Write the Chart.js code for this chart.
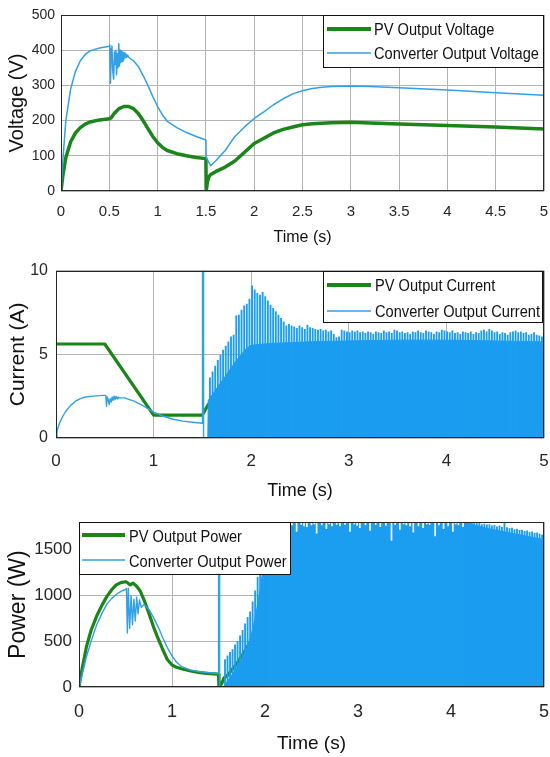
<!DOCTYPE html>
<html>
<head>
<meta charset="utf-8">
<title>PV and converter outputs</title>
<script src="https://cdn.jsdelivr.net/npm/chart.js@4.4.1/dist/chart.umd.min.js"></script>
<style>
  html, body { margin: 0; padding: 0; background: #ffffff; }
  #wrap { position: relative; width: 550px; height: 757px; overflow: hidden; }
  canvas { position: absolute; left: 0; }
</style>
</head>
<body>
<div id="wrap">
  <canvas id="voltage" width="550" height="252" style="top:0px"></canvas>
  <canvas id="current" width="550" height="253" style="top:252px"></canvas>
  <canvas id="power" width="550" height="252" style="top:505px"></canvas>
</div>
<script>
// ---------- data: [time (s), value] ----------
const pvVoltage = [[0,0],[0.02,45],[0.05,95],[0.1,140],[0.15,165],[0.2,180],[0.25,190],[0.3,196],[0.4,202],[0.5,205],[0.52,208],[0.55,220],[0.6,234],[0.65,240],[0.7,240],[0.75,234],[0.8,220],[0.85,200],[0.9,177],[0.95,155],[1.0,137],[1.05,124],[1.1,115],[1.2,106],[1.3,100],[1.4,95],[1.5,92],[1.503,0],[1.515,25],[1.53,40],[1.55,47],[1.6,55],[1.7,68],[1.8,85],[1.9,110],[2.0,135],[2.1,150],[2.2,165],[2.3,175],[2.4,182],[2.5,188],[2.6,191],[2.8,194],[3.0,195],[3.2,193],[3.5,190],[4.0,186],[4.5,182],[5.0,176]];
const converterVoltage = [[0,0],[0.02,90],[0.05,200],[0.1,290],[0.15,340],[0.2,370],[0.25,388],[0.3,398],[0.4,406],[0.5,411],[0.505,415],[0.512,306],[0.52,405],[0.527,412],[0.535,345],[0.545,318],[0.553,395],[0.56,360],[0.568,400],[0.575,330],[0.583,390],[0.59,350],[0.598,418],[0.605,355],[0.612,400],[0.618,365],[0.625,398],[0.632,368],[0.64,395],[0.648,372],[0.655,392],[0.662,378],[0.67,390],[0.68,380],[0.69,386],[0.7,380],[0.75,370],[0.8,354],[0.85,328],[0.9,300],[0.95,268],[1.0,240],[1.05,216],[1.1,198],[1.2,180],[1.3,166],[1.4,155],[1.5,145],[1.503,95],[1.55,72],[1.6,85],[1.7,115],[1.8,155],[1.9,182],[2.0,206],[2.1,225],[2.2,245],[2.3,262],[2.4,276],[2.5,285],[2.6,291],[2.7,295],[2.8,297],[3.0,298],[3.2,297],[3.5,293],[4.0,287],[4.5,279],[5.0,272]];

const pvCurrent = [[0,5.62],[0.5,5.62],[1.0,1.37],[1.5,1.37],[1.56,2.0],[1.7,3.2],[1.85,4.45],[2.0,5.45],[2.5,5.55],[5.0,5.55]];
const converterCurrent = [[0,0],[0.01,0.35],[0.02,0.6],[0.04,0.95],[0.07,1.3],[0.1,1.6],[0.15,1.95],[0.2,2.2],[0.25,2.35],[0.3,2.45],[0.4,2.52],[0.5,2.55],[0.51,2.55],[0.518,1.9],[0.525,2.45],[0.535,2.3],[0.545,2.0],[0.555,2.35],[0.565,2.15],[0.575,2.45],[0.585,2.25],[0.595,2.5],[0.605,2.3],[0.615,2.5],[0.625,2.35],[0.635,2.45],[0.65,2.4],[0.7,2.4],[0.8,2.2],[0.9,1.9],[1.0,1.55],[1.1,1.3],[1.2,1.12],[1.3,1.01],[1.4,0.94],[1.5,0.88],[1.501,12],[1.511,12],[1.512,0],[1.555,0]];
// switching band: solid level and the individual current peaks
const converterCurrentBand = [[1.555,0],[1.56,2.25],[1.7,3.4],[1.85,4.65],[1.95,5.35],[2.0,5.55],[2.1,5.6],[2.2,5.65],[2.4,5.7],[2.6,5.75],[3.0,5.8],[3.5,5.85],[4.0,5.85],[4.5,5.8],[5.0,5.75]];
const converterCurrentPeaks = [[1.577,3.6],[1.604,3.95],[1.631,4.3],[1.658,4.65],[1.685,4.95],[1.712,5.25],[1.739,5.5],[1.766,5.75],[1.793,6.05],[1.82,6.15],[1.847,7.3],[1.874,7.35],[1.901,7.65],[1.928,7.9],[1.955,8.0],[1.982,8.3],[2.009,9.1],[2.036,8.85],[2.063,8.65],[2.09,8.55],[2.117,8.7],[2.144,8.45],[2.171,8.2],[2.198,7.95],[2.225,7.75],[2.252,7.55],[2.279,7.35],[2.306,7.15],[2.333,6.95],[2.36,6.7],[2.387,6.8],[2.414,6.7],[2.441,6.65],[2.468,6.55],[2.495,6.7],[2.522,6.6],[2.549,6.5],[2.576,6.75],[2.603,6.6],[2.63,6.55],[2.657,6.5],[2.684,6.45],[2.711,6.5],[2.738,6.4],[2.765,6.45],[2.792,6.35],[2.819,6.4],[2.846,6.2],[2.873,6.0],[2.9,6.05],[2.927,6.45],[2.954,6.4],[2.981,6.35],[3.008,6.3],[3.035,6.4],[3.062,6.35],[3.089,6.4],[3.116,6.3],[3.143,6.35],[3.17,6.25],[3.197,6.35],[3.224,6.3],[3.251,6.2],[3.278,6.35],[3.305,6.3],[3.332,6.25],[3.359,6.4],[3.386,6.3],[3.413,6.35],[3.44,6.25],[3.467,6.45],[3.494,6.4],[3.521,6.3],[3.548,6.35],[3.575,6.25],[3.602,6.3],[3.629,6.2],[3.656,6.35],[3.683,6.3],[3.71,6.4],[3.737,6.3],[3.764,6.25],[3.791,6.4],[3.818,6.35],[3.845,6.3],[3.872,6.2],[3.899,6.35],[3.926,6.3],[3.953,6.45],[3.98,6.4],[4.007,6.35],[4.034,6.3],[4.061,6.4],[4.088,6.25],[4.115,6.3],[4.142,6.2],[4.169,6.35],[4.196,6.3],[4.223,6.25],[4.25,6.35],[4.277,6.2],[4.304,6.3],[4.331,6.25],[4.358,6.4],[4.385,6.45],[4.412,6.35],[4.439,6.5],[4.466,6.4],[4.493,6.3],[4.52,6.35],[4.547,6.2],[4.574,6.3],[4.601,6.25],[4.628,6.15],[4.655,6.3],[4.682,6.35],[4.709,6.4],[4.736,6.3],[4.763,6.35],[4.79,6.25],[4.817,6.3],[4.844,6.15],[4.871,6.2],[4.898,6.3],[4.925,6.15],[4.952,6.1],[4.979,6.05]];

const pvPower = [[0,0],[0.03,180],[0.08,440],[0.13,620],[0.19,775],[0.25,900],[0.3,990],[0.35,1060],[0.4,1115],[0.45,1140],[0.5,1150],[0.52,1140],[0.55,1115],[0.58,1135],[0.62,1100],[0.66,1045],[0.7,950],[0.75,810],[0.8,660],[0.85,530],[0.9,410],[0.95,300],[1.0,240],[1.05,215],[1.1,200],[1.2,175],[1.3,157],[1.4,147],[1.5,140],[1.505,0],[1.53,30],[1.56,100],[1.6,130],[1.7,260],[1.8,420],[1.9,600],[2.0,780],[2.2,950],[2.5,1100],[3.0,1150],[3.5,1120],[4.0,1090],[4.5,1070],[5.0,1040]];
const converterPower = [[0,0],[0.03,120],[0.08,330],[0.13,500],[0.19,680],[0.25,810],[0.3,905],[0.35,965],[0.4,1010],[0.45,1045],[0.5,1065],[0.51,1075],[0.52,590],[0.53,1080],[0.545,640],[0.56,1000],[0.575,680],[0.59,960],[0.605,720],[0.62,980],[0.635,800],[0.65,950],[0.67,870],[0.7,900],[0.75,850],[0.8,760],[0.85,660],[0.9,540],[0.95,430],[1.0,340],[1.05,270],[1.1,225],[1.2,185],[1.3,165],[1.4,155],[1.5,148],[1.501,1950],[1.511,1950],[1.512,0],[1.545,0]];
const converterPowerBand = [[1.545,0],[1.57,20],[1.6,70],[1.65,140],[1.7,220],[1.75,300],[1.8,410],[1.85,560],[1.9,780],[1.95,1080],[2.0,1450],[2.04,1700],[2.08,1800],[4.15,1800],[4.25,1770],[4.4,1730],[4.6,1690],[4.8,1650],[5.0,1610]];
const converterPowerPeaks = [[1.57,300],[1.597,340],[1.624,380],[1.651,410],[1.678,460],[1.705,500],[1.732,560],[1.759,620],[1.786,690],[1.813,760],[1.84,820],[1.867,930],[1.894,1050],[1.921,1200],[1.948,1400],[1.975,1600],[2.002,1760],[2.03,1800],[4.17,1800],[4.197,1795],[4.224,1790],[4.251,1800],[4.278,1785],[4.305,1790],[4.332,1775],[4.359,1780],[4.386,1770],[4.413,1775],[4.44,1760],[4.467,1765],[4.494,1750],[4.521,1760],[4.548,1745],[4.575,1800],[4.602,1740],[4.629,1730],[4.656,1735],[4.683,1720],[4.71,1725],[4.737,1710],[4.764,1715],[4.791,1700],[4.818,1705],[4.845,1690],[4.872,1695],[4.899,1680],[4.926,1685],[4.953,1670],[4.98,1660]];
// short drops of the switching power below the top of the axis
const converterPowerDips = [[2.07,1720],[2.1,1770],[2.125,1690],[2.155,1775],[2.18,1760],[2.23,1740],[2.26,1780],[2.29,1770],[2.34,1700],[2.39,1775],[2.42,1760],[2.45,1750],[2.5,1770],[2.53,1780],[2.555,1680],[2.61,1770],[2.66,1730],[2.69,1780],[2.72,1760],[2.77,1775],[2.806,1760],[2.86,1775],[2.914,1700],[2.96,1780],[2.99,1765],[3.02,1740],[3.08,1770],[3.13,1710],[3.19,1775],[3.24,1750],[3.3,1765],[3.36,1600],[3.4,1775],[3.45,1720],[3.49,1780],[3.52,1770],[3.56,1760],[3.595,1690],[3.65,1760],[3.7,1740],[3.74,1780],[3.77,1775],[3.83,1650],[3.87,1770],[3.92,1730],[3.97,1760],[4.02,1700],[4.05,1780],[4.08,1770],[4.13,1750]];

// ---------- ticks ----------
const voltageTimeTicks = [0,0.5,1,1.5,2,2.5,3,3.5,4,4.5,5];
const voltageTimeLabels = ['0','0.5','1','1.5','2','2.5','3','3.5','4','4.5','5'];
const voltageTicks = [0,100,200,300,400,500];
const voltageLabels = ['0','100','200','300','400','500'];
const timeTicks = [0,1,2,3,4,5];
const timeLabels = ['0','1','2','3','4','5'];
const currentTicks = [0,5,10];
const currentLabels = ['0','5','10'];
const powerTicks = [0,500,1000,1500];
const powerLabels = ['0','500','1000','1500'];

// ---------- styling ----------
const FONT = "'Liberation Sans', Arial, Helvetica, sans-serif";
const GREEN = '#1a861a';
const BLUE = '#31a0e6';
const BLUE_FILL = '#1b9df0';
const GRID = '#b4b4b4';
const TICK = '#262626';
const TEXT = '#111111';

const pts = arr => arr.map(([x, y]) => ({ x, y }));

// frame round the plot area plus a boxed legend with line samples
const frameLegend = {
  id: 'frameLegend',
  afterDatasetsDraw(chart, args, o) {
    const { ctx, chartArea: a } = chart;
    ctx.save();
    ctx.strokeStyle = '#262626';
    ctx.lineWidth = 1;
    ctx.strokeRect(Math.round(a.left) + 0.5, Math.round(a.top) + 0.5,
                   Math.round(a.right - a.left) - 1, Math.round(a.bottom - a.top) - 1);

    ctx.fillStyle = '#ffffff';
    ctx.fillRect(o.x, o.y, o.w, o.h);
    ctx.strokeStyle = '#111111';
    ctx.strokeRect(o.x + 0.5, o.y + 0.5, o.w - 1, o.h - 1);
    o.items.forEach((dsIndex, i) => {
      const ds = chart.data.datasets[dsIndex];
      const ry = o.rows[i];
      ctx.beginPath();
      ctx.strokeStyle = ds.borderColor;
      ctx.lineWidth = o.widths[i];
      ctx.moveTo(o.x1, ry);
      ctx.lineTo(o.x2, ry);
      ctx.stroke();
      ctx.save();
      ctx.translate(o.tx, ry + o.dy);
      ctx.scale(o.squeeze, 1);
      ctx.fillStyle = TEXT;
      ctx.font = o.size + 'px ' + FONT;
      ctx.textBaseline = 'middle';
      ctx.textAlign = 'left';
      ctx.fillText(ds.label, 0, 0);
      ctx.restore();
    });
    ctx.restore();
  }
};

function axes(o) {
  return {
    x: {
      type: 'linear', min: 0, max: 5, offset: false,
      afterBuildTicks: s => { s.ticks = o.xTicks.map(v => ({ value: v })); },
      afterFit: s => { s.height = o.xHeight; },
      ticks: {
        autoSkip: false, maxRotation: 0, padding: 0, color: TICK,
        font: { family: FONT, size: o.xTickSize },
        callback: v => { const i = o.xTicks.indexOf(v); return i < 0 ? '' : o.xLabels[i]; }
      },
      // the (invisible) tick marks set the gap between the axis and its labels
      grid: { color: GRID, lineWidth: 1, drawTicks: true, tickLength: o.xTickGap,
              tickColor: 'rgba(0,0,0,0)', offset: false },
      border: { display: false },
      title: { display: true, text: 'Time (s)', color: TEXT, padding: 0,
               font: { family: FONT, size: o.xTitleSize } }
    },
    y: {
      type: 'linear', min: o.yMin, max: o.yMax, stacked: false,
      afterBuildTicks: s => { s.ticks = o.yTicks.map(v => ({ value: v })); },
      afterFit: s => { s.width = o.yWidth; },
      ticks: {
        padding: o.yTickPad, color: TICK,
        font: { family: FONT, size: o.yTickSize },
        callback: v => { const i = o.yTicks.indexOf(v); return i < 0 ? '' : o.yLabels[i]; }
      },
      grid: { color: GRID, lineWidth: 1, drawTicks: false },
      border: { display: false },
      title: { display: true, text: o.yTitle, color: TEXT, padding: 0,
               font: { family: FONT, size: o.yTitleSize } }
    }
  };
}

function baseOptions(o, legend) {
  return {
    responsive: false, animation: false, devicePixelRatio: 1,
    layout: { padding: o.padding },
    elements: { point: { radius: 0, hoverRadius: 0 }, line: { tension: 0, borderJoinStyle: 'round' } },
    plugins: { legend: { display: false }, tooltip: { enabled: false }, frameLegend: legend },
    scales: axes(o)
  };
}

// ---------- voltage ----------
new Chart(document.getElementById('voltage'), {
  type: 'line',
  data: {
    datasets: [
      { label: 'PV Output Voltage', data: pts(pvVoltage), borderColor: GREEN, borderWidth: 3.5, order: 2 },
      { label: 'Converter Output Voltage', data: pts(converterVoltage), borderColor: BLUE, borderWidth: 1.5, order: 1 }
    ]
  },
  options: baseOptions({
    padding: { left: 5, top: 15, right: 6, bottom: 4.4 },
    xTicks: voltageTimeTicks, xLabels: voltageTimeLabels, xHeight: 56.6, xTickGap: 12, xTickSize: 15, xTitleSize: 16,
    yMin: 0, yMax: 500, yTicks: voltageTicks, yLabels: voltageLabels, yWidth: 56, yTickPad: 6, yTickSize: 14,
    yTitle: 'Voltage (V)', yTitleSize: 20
  }, { x: 323, y: 15, w: 221, h: 53, x1: 327, x2: 371, tx: 374, rows: [29, 53], dy: 1.5,
       items: [0, 1], widths: [4, 1.5], size: 17, squeeze: 0.86 }),
  plugins: [frameLegend]
});

// ---------- current ----------
new Chart(document.getElementById('current'), {
  type: 'line',
  data: {
    datasets: [
      { label: 'PV Output Current', data: pts(pvCurrent), borderColor: GREEN, borderWidth: 3.2, order: 4 },
      { label: 'Converter Output Current', data: pts(converterCurrent), borderColor: BLUE, borderWidth: 1.4, order: 1 },
      { label: 'Converter Output Current', data: pts(converterCurrentBand), borderColor: BLUE_FILL, borderWidth: 1,
        backgroundColor: BLUE_FILL, fill: 'origin', order: 3 },
      { type: 'bar', label: 'Converter Output Current', data: pts(converterCurrentPeaks), backgroundColor: BLUE_FILL,
        borderWidth: 0, barThickness: 1.2, grouped: false, order: 2 }
    ]
  },
  options: baseOptions({
    padding: { left: 5.4, top: 18.7, right: 6, bottom: 3.2 },
    xTicks: timeTicks, xLabels: timeLabels, xHeight: 63.8, xTickGap: 12.8, xTickSize: 17, xTitleSize: 18,
    yMin: 0, yMax: 10, yTicks: currentTicks, yLabels: currentLabels, yWidth: 50.6, yTickPad: 8, yTickSize: 16,
    yTitle: 'Current (A)', yTitleSize: 21
  }, { x: 323, y: 19, w: 220, h: 52, x1: 327, x2: 371, tx: 375, rows: [33, 59], dy: 1.5,
       items: [0, 1], widths: [4, 1.5], size: 17, squeeze: 0.86 }),
  plugins: [frameLegend]
});

// ---------- power ----------
const POWER_MAX = 1800;
new Chart(document.getElementById('power'), {
  type: 'line',
  data: {
    datasets: [
      { label: 'PV Output Power', data: pts(pvPower), borderColor: GREEN, borderWidth: 3.2, order: 5 },
      { label: 'Converter Output Power', data: pts(converterPower), borderColor: BLUE, borderWidth: 1.4, order: 1 },
      { label: 'Converter Output Power', data: pts(converterPowerBand), borderColor: BLUE_FILL, borderWidth: 1,
        backgroundColor: BLUE_FILL, fill: 'origin', order: 4 },
      { type: 'bar', label: 'Converter Output Power', data: pts(converterPowerPeaks), backgroundColor: BLUE_FILL,
        borderWidth: 0, barThickness: 1.2, grouped: false, order: 3 },
      { type: 'bar', label: 'Converter Output Power', data: converterPowerDips.map(([x, low]) => ({ x, y: [low, POWER_MAX] })),
        backgroundColor: '#ffffff', borderWidth: 0, barThickness: 1, grouped: false, order: 2 }
    ]
  },
  options: baseOptions({
    padding: { left: 5.2, top: 17, right: 6, bottom: 1.6 },
    xTicks: timeTicks, xLabels: timeLabels, xHeight: 68.4, xTickGap: 14.7, xTickSize: 18, xTitleSize: 19,
    yMin: 0, yMax: POWER_MAX, yTicks: powerTicks, yLabels: powerLabels, yWidth: 73.8, yTickPad: 7, yTickSize: 17,
    yTitle: 'Power (W)', yTitleSize: 23
  }, { x: 79, y: 17, w: 212, h: 53, x1: 82, x2: 125, tx: 129, rows: [30, 55], dy: 2.5,
       items: [0, 1], widths: [4, 1.5], size: 17, squeeze: 0.86 }),
  plugins: [frameLegend]
});
</script>
</body>
</html>
